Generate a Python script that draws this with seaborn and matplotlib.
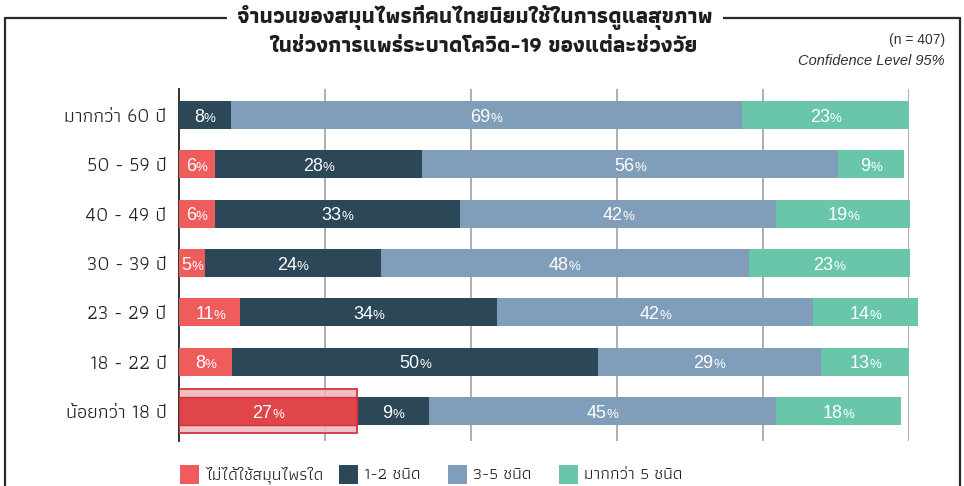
import matplotlib
matplotlib.use("Agg")
from matplotlib import pyplot as plt
from matplotlib.patches import Rectangle
from matplotlib.lines import Line2D
import seaborn as sns
import pandas as pd

# ช่วงวัย (บนลงล่าง)
age_groups = ['มากกว่า 60 ปี', '50 - 59 ปี', '40 - 49 ปี', '30 - 39 ปี',
              '23 - 29 ปี', '18 - 22 ปี', 'น้อยกว่า 18 ปี']
series_names = ['ไม่ได้ใช้สมุนไพรใด', '1-2 ชนิด', '3-5 ชนิด', 'มากกว่า 5 ชนิด']

# ความยาวแท่ง (อ่านจากภาพ, %)
none_use = [0, 4.9, 4.9, 3.6, 8.4, 7.3, 24.4]
one_two = [7.1, 28.4, 33.6, 24.0, 35.2, 50.1, 9.9]
three_five = [70.0, 57.0, 43.3, 50.4, 43.2, 30.5, 47.5]
over_five = [22.9, 9.0, 18.3, 22.1, 14.4, 12.1, 17.1]

# ตัวเลขที่เขียนบนแท่ง
lab_none = [None, 6, 6, 5, 11, 8, 27]
lab_one_two = [8, 28, 33, 24, 34, 50, 9]
lab_three_five = [69, 56, 42, 48, 42, 29, 45]
lab_over_five = [23, 9, 19, 23, 14, 13, 18]

colors = ['#EF5C5C', '#2B4758', '#809DBA', '#69C6AA']
highlight_bar = '#E0454A'
highlight_box = '#EDB5BA'
highlight_edge = '#D3343C'

sns.set_theme(style='white')
plt.rcParams['font.family'] = ['Athiti', 'DejaVu Sans']

df = pd.DataFrame({'group': age_groups,
                   'none': none_use, 'one_two': one_two,
                   'three_five': three_five, 'over_five': over_five})
parts = ['none', 'one_two', 'three_five', 'over_five']
labels = [lab_none, lab_one_two, lab_three_five, lab_over_five]
cum = df[parts].cumsum(axis=1)
for c in parts:
    df['cum_' + c] = cum[c]

fig = plt.figure(figsize=(9.64, 4.86), dpi=100)
ax = fig.add_axes([179 / 964, 1 - 441 / 486, 730.3 / 964, 352 / 486])

bar_w = 0.566
# วาดจากผลรวมสะสมมากไปน้อย ให้แท่งสั้นทับแท่งยาว
for i in range(3, -1, -1):
    if i == 0:
        pal = [colors[0]] * (len(age_groups) - 1) + [highlight_bar]
        sns.barplot(data=df, y='group', x='cum_none', hue='group', palette=pal,
                    order=age_groups, width=bar_w, saturation=1, legend=False,
                    orient='h', ax=ax, zorder=3)
    else:
        sns.barplot(data=df, y='group', x='cum_' + parts[i], color=colors[i],
                    order=age_groups, width=bar_w, saturation=1,
                    orient='h', ax=ax, zorder=3)
for p in ax.patches:
    p.set_clip_on(False)
    p.set_linewidth(0)

# กรอบเน้นแถว น้อยกว่า 18 ปี
last = len(age_groups) - 1
ax.add_patch(Rectangle((0, last - 0.444), none_use[last], 0.888,
                       facecolor=highlight_box, alpha=0.85, edgecolor='none', zorder=2))
ax.add_patch(Rectangle((0, last - 0.444), none_use[last], 0.888,
                       facecolor='none', edgecolor=highlight_edge, lw=1.3, zorder=4))
ax.add_patch(Rectangle((0, last - bar_w / 2), none_use[last], bar_w,
                       facecolor='none', edgecolor=highlight_edge, lw=1.0, zorder=4))

# ตัวเลขบนแท่ง
for i, c in enumerate(parts):
    for r in range(len(age_groups)):
        v = labels[i][r]
        if v is None:
            continue
        start = df['cum_' + c][r] - df[c][r]
        xc = start + df[c][r] / 2
        nd = len(str(v))
        dx = (nd * 7.2 - 8.4) / 2
        ax.annotate(str(v), (xc, r), xytext=(dx, -4.8), textcoords='offset points',
                    ha='right', va='baseline', color='white', fontsize=13,
                    family='Liberation Sans', zorder=5, annotation_clip=False)
        ax.annotate('%', (xc, r), xytext=(dx - 0.1, -4.8), textcoords='offset points',
                    ha='left', va='baseline', color='white', fontsize=9.5,
                    family='Liberation Sans', zorder=5, annotation_clip=False)

ax.set_xlim(0, 100)
ax.set_ylim(6.606, -0.525)
ax.set_xticks([20, 40, 60, 80, 100])
ax.set_xticklabels([])
ax.xaxis.grid(True, color='#A8A8A8', lw=1.3)
ax.set_axisbelow(True)
ax.tick_params(axis='both', length=0)
ax.tick_params(axis='y', pad=9, labelsize=14.2, labelcolor='#222222')
ax.set_xlabel('')
ax.set_ylabel('')
for s in ['top', 'right', 'bottom']:
    ax.spines[s].set_visible(False)
ax.spines['left'].set_color('#222222')
ax.spines['left'].set_linewidth(1.3)

# กรอบรอบภาพ
frame_c = '#2A2A2A'
fig.add_artist(Line2D([5 / 964, 5 / 964], [0, 1 - 18 / 486], color=frame_c, lw=1.6))
fig.add_artist(Line2D([960 / 964, 960 / 964], [0, 1 - 18 / 486], color=frame_c, lw=1.6))
fig.add_artist(Line2D([5 / 964, 960 / 964], [1 - 18 / 486, 1 - 18 / 486], color=frame_c, lw=1.6))

# หัวเรื่อง
fig.text(475 / 964, 1 - 17 / 486, 'จำนวนของสมุนไพรที่คนไทยนิยมใช้ในการดูแลสุขภาพ',
         ha='center', va='center', fontsize=15.8, weight='bold', color='#1E1E1E',
         bbox=dict(facecolor='white', edgecolor='none', pad=7))
fig.text(483 / 964, 1 - 46 / 486, 'ในช่วงการแพร่ระบาดโควิด-19 ของแต่ละช่วงวัย',
         ha='center', va='center', fontsize=15.8, weight='bold', color='#1E1E1E')
fig.text(945 / 964, 1 - 40 / 486, '(n = 407)', ha='right', va='center',
         fontsize=10, family='Liberation Sans', color='#333333')
fig.text(945 / 964, 1 - 61 / 486, 'Confidence Level 95%', ha='right', va='center',
         fontsize=10.5, family='Liberation Sans', style='italic', color='#333333')

# คำอธิบายสี
leg_x = [180, 339, 448, 559]
for name, col, x in zip(series_names, colors, leg_x):
    fig.add_artist(Rectangle((x / 964, 1 - 484 / 486), 19 / 964, 19 / 486,
                             facecolor=col, edgecolor='none', transform=fig.transFigure))
    fig.text((x + 25) / 964, 1 - 475 / 486, name, ha='left', va='center',
             fontsize=12.5, color='#222222')

fig.savefig('out.png', dpi=100)
